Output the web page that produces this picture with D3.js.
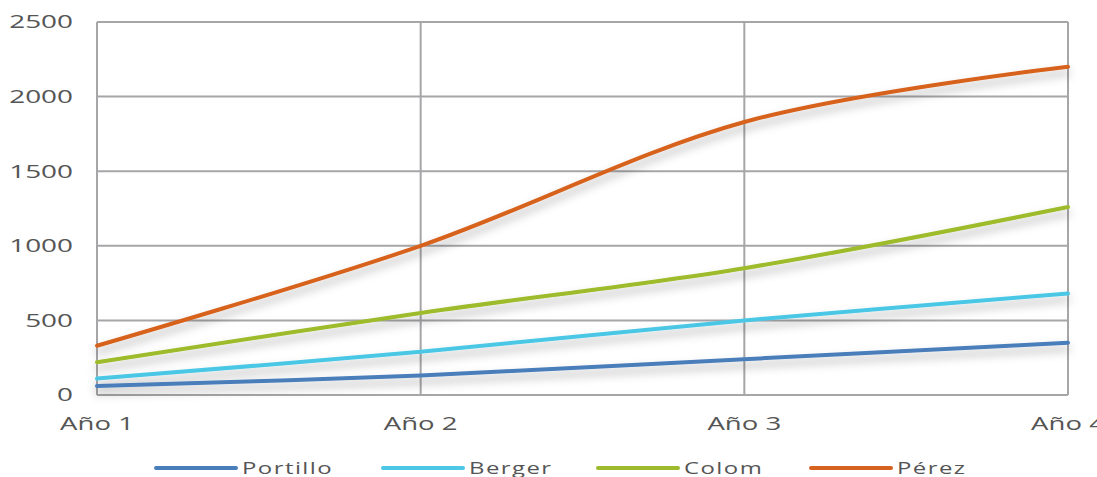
<!DOCTYPE html>
<html>
<head>
<meta charset="utf-8">
<script src="https://cdn.jsdelivr.net/npm/d3@7"></script>
<style>
  html, body { margin: 0; padding: 0; background: #fff; }
  svg { display: block; }
  text { font-family: "Open Sans", "DejaVu Sans", sans-serif; fill: #555; }
</style>
</head>
<body>
<svg id="chart" width="1097" height="477"></svg>
<script>
// Years on the category axis
const categories = ["Año 1", "Año 2", "Año 3", "Año 4"];
// Series names and their values per year
const seriesNames = ["Portillo", "Berger", "Colom", "Pérez"];
const portillo = [60, 130, 240, 350];
const berger = [110, 290, 500, 680];
const colom = [220, 550, 850, 1260];
const perez = [330, 1000, 1830, 2200];
const seriesValues = [portillo, berger, colom, perez];
// Value axis ticks
const yTicks = [0, 500, 1000, 1500, 2000, 2500];

const colors = ["#4a7ebb", "#4cc7e6", "#9dbb2c", "#d6621f"];

const svg = d3.select("#chart");
const margin = { left: 97, right: 29, top: 22, bottom: 82 };
const W = 1097, H = 477;
const stretch = 1.45;

const x = d3.scalePoint().domain(categories).range([margin.left, W - margin.right]);
const y = d3.scaleLinear().domain([0, 2500]).range([H - margin.bottom, margin.top]);

// Soft shadow under the series lines
const defs = svg.append("defs");
const f = defs.append("filter").attr("id", "shadow")
  .attr("x", "-5%").attr("y", "-20%").attr("width", "110%").attr("height", "160%");
f.append("feDropShadow").attr("dx", 0).attr("dy", 6).attr("stdDeviation", 5)
  .attr("flood-color", "#000").attr("flood-opacity", 0.3);

// Grid
const grid = svg.append("g");
grid.selectAll("line.h").data(yTicks).join("line")
  .attr("x1", x(categories[0])).attr("x2", x(categories[3]))
  .attr("y1", d => y(d)).attr("y2", d => y(d))
  .attr("stroke", "#a6a6a9").attr("stroke-width", 2);
grid.selectAll("line.v").data(categories).join("line")
  .attr("x1", d => x(d)).attr("x2", d => x(d))
  .attr("y1", y(0)).attr("y2", y(2500))
  .attr("stroke", "#a6a6a9").attr("stroke-width", 2);

// Y tick labels
svg.append("g").selectAll("text").data(yTicks).join("text")
  .attr("transform", d => `translate(73,${y(d)}) scale(1.55,1)`)
  .attr("text-anchor", "end").attr("dy", "0.35em")
  .attr("font-size", 18)
  .text(d => d);

// X tick labels
svg.append("g").selectAll("text").data(categories).join("text")
  .attr("transform", d => `translate(${x(d)},${y(0) + 35}) scale(${stretch},1)`)
  .attr("text-anchor", "middle")
  .attr("font-size", 19)
  .text(d => d);

// Series lines
const line = d3.line()
  .x((d, i) => x(categories[i]))
  .y(d => y(d))
  .curve(d3.curveCatmullRom.alpha(0));

svg.append("g").attr("filter", "url(#shadow)")
  .selectAll("path").data(seriesValues).join("path")
  .attr("d", d => line(d))
  .attr("fill", "none")
  .attr("stroke", (d, i) => colors[i])
  .attr("stroke-width", 4)
  .attr("stroke-linecap", "round");

// Legend
const legendX = [156, 383, 598, 811];
const leg = svg.append("g").selectAll("g").data(seriesNames).join("g")
  .attr("transform", (d, i) => `translate(${legendX[i]},468)`);
leg.append("line")
  .attr("x1", 0).attr("x2", 80).attr("y1", 0).attr("y2", 0)
  .attr("stroke", (d, i) => colors[i]).attr("stroke-width", 4)
  .attr("stroke-linecap", "round");
leg.append("text")
  .attr("transform", `translate(86,0) scale(${stretch},1)`)
  .attr("dy", "0.35em").attr("font-size", 16.5).attr("letter-spacing", 1)
  .text(d => d);
</script>
</body>
</html>
